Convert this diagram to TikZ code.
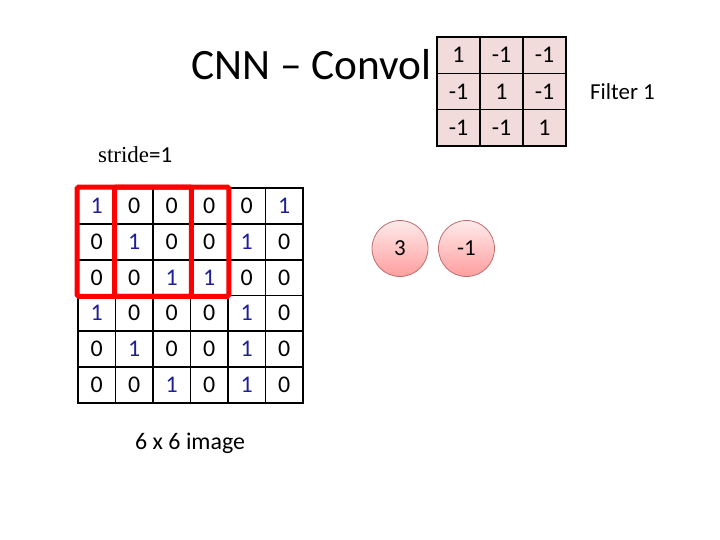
\documentclass[tikz,border=0pt]{standalone}
\usepackage{fontspec}
\setmainfont{Carlito}
\newfontfamily\serifpart{Liberation Serif}
\definecolor{onecol}{RGB}{30,30,150}
\definecolor{filtfill}{RGB}{242,220,219}
\definecolor{circedge}{RGB}{190,110,110}
\begin{document}
\begin{tikzpicture}[x=1bp,y=-1bp,
  cellbox/.style={draw=black,line width=1.8bp,minimum width=37.5bp,minimum height=35.8bp,inner sep=0pt,anchor=center,font=\fontsize{24}{28}\selectfont},
  filtbox/.style={draw=black,line width=1.4bp,fill=filtfill,minimum width=43bp,minimum height=36.3bp,inner sep=0pt,anchor=center,font=\fontsize{24}{28}\selectfont},
  winbox/.style={draw=red,line width=5bp,rounded corners=1.5bp},
  outcirc/.style={circle,draw=circedge,line width=0.8bp,top color=red!8,bottom color=red!38,minimum size=56bp,inner sep=0pt,font=\fontsize{23}{27}\selectfont},
  lbl/.style={inner sep=0pt,anchor=base west}]
\useasboundingbox (0,0) rectangle (720,540);
% title
\node[lbl,font=\fontsize{43.5}{50}\selectfont] (title) at (191,80) {CNN -- Convol};
% image grid
\def\gx{78}\def\gy{188}\def\gw{37.5}\def\gh{35.8}
\foreach \r/\row in {1/{1,0,0,0,0,1},2/{0,1,0,0,1,0},3/{0,0,1,1,0,0},4/{1,0,0,0,1,0},5/{0,1,0,0,1,0},6/{0,0,1,0,1,0}}{
  \foreach \v [count=\c] in \row {
    \ifnum\v=1 \def\tc{onecol}\else\def\tc{black}\fi
    \node[cellbox,text=\tc] (g-\r-\c) at ({\gx+(\c-0.5)*\gw},{\gy+(\r-0.5)*\gh}) {\v};
  }
}
% stride windows
\draw[winbox] (g-1-1.north west) rectangle (g-3-3.south east);
\draw[winbox] (g-1-2.north west) rectangle (g-3-4.south east);
% filter
\def\fx{437}\def\fy{37}\def\fw{43}\def\fh{36.3}
\foreach \r/\row in {1/{1,-1,-1},2/{-1,1,-1},3/{-1,-1,1}}{
  \foreach \v [count=\c] in \row {
    \node[filtbox] (f-\r-\c) at ({\fx+(\c-0.5)*\fw},{\fy+(\r-0.5)*\fh}) {\v};
  }
}
\node[lbl,font=\fontsize{23}{27}\selectfont] (filtlbl) at (590,100) {Filter 1};
\node[lbl,font=\fontsize{23}{27}\selectfont] (stride) at (98,163) {\serifpart stride\normalfont=1};
\node[lbl,font=\fontsize{24}{28}\selectfont] (imglbl) at (135,449) {6 x 6 image};
% outputs
\node[outcirc] (o1) at (400,248.5) {3};
\node[outcirc] (o2) at (466.5,248.5) {-1};
\end{tikzpicture}
\end{document}
